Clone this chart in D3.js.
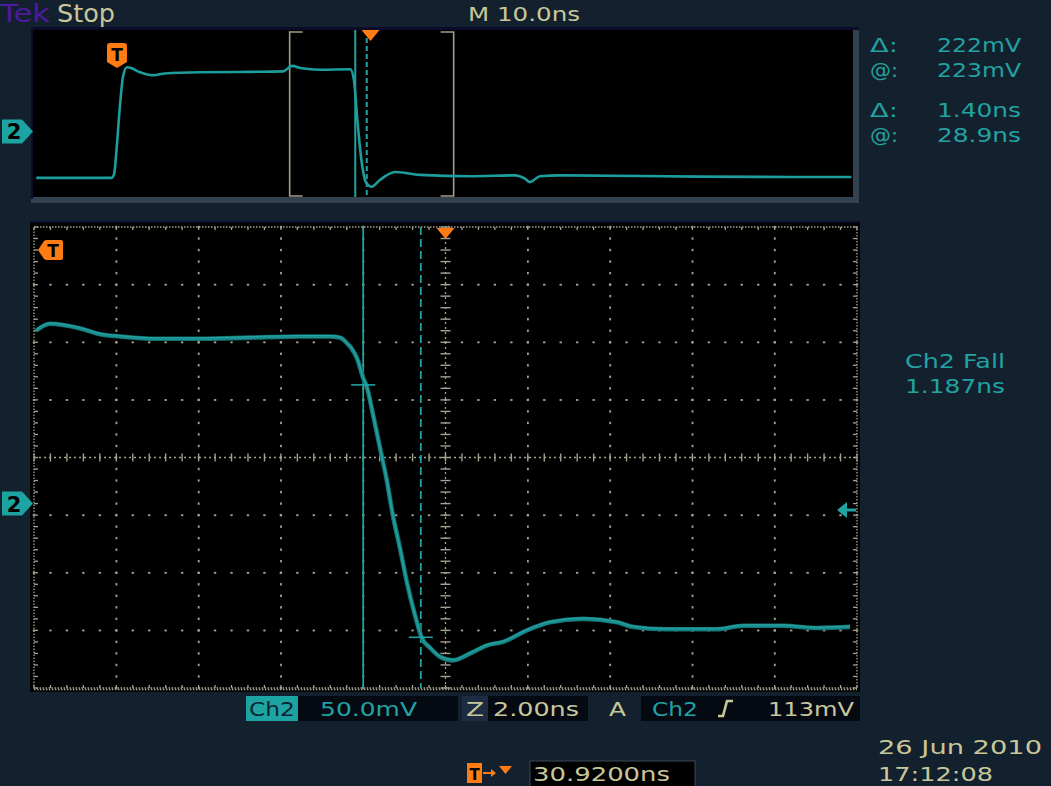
<!DOCTYPE html>
<html><head><meta charset="utf-8">
<script src="https://cdn.jsdelivr.net/npm/d3@7"></script>
<style>html,body{margin:0;padding:0;background:#13202e;overflow:hidden}svg{display:block}</style>
</head><body>
<svg id="c" width="1051" height="786"></svg>
<script>
// ---------------- data ----------------
// Overview record (10 ns/div, 100 ns across), time in ns, amplitude in mV
const overviewTimeNs = [0.4, 9.6, 9.9, 10.24, 10.6, 10.98, 11.46, 11.95, 13.05, 14.63, 16.1, 20.4, 26.5, 30.5, 31.6, 32.6, 35.0, 38.7, 39.15, 39.5, 40.0, 40.6, 41.3, 42.3, 44.15, 47.2, 53.3, 58.8, 60.0, 60.6, 61.8, 64.3, 81.3, 99.8];
const overviewMv     = [-110, -110, -100, -30, 60, 130, 152, 150, 140, 133, 137, 140, 141, 142, 155, 150, 146, 147, 120, 40, -60, -120, -131, -115, -96, -103, -106, -104, -112, -120, -106, -104, -107, -108];
// Zoomed window (2.00 ns/div, 20 ns across), time in ns from window start, amplitude in mV
const zoomTimeNs = [0.05, 0.39, 1.12, 1.60, 2.09, 3.0, 4.03, 5.25, 6.46, 7.2, 7.44, 7.61, 7.73, 7.85, 8.00, 8.09, 8.24, 8.41, 8.58, 8.72, 8.89, 9.06, 9.26, 9.43, 9.62, 9.87, 10.18, 10.60, 11.01, 11.40, 11.98, 12.54, 13.34, 14.17, 14.56, 15.38, 16.60, 17.23, 18.20, 19.03, 19.83];
const zoomMv     = [150, 156, 152, 147, 145, 143, 143, 144, 145, 145, 144, 139, 134, 126, 109, 101, 77, 48, 19, -10, -38, -68, -97, -117, -125, -133, -136, -130, -123, -120, -110, -103, -100, -103, -107, -109, -109, -106, -106, -108, -107];
const zoomWindowStartNs = 31.3;     // position of zoom window inside overview
const cursorTimesNs = [8.0, 9.4];   // vertical cursors (main window)
const cursorLevelsMv = [103, -116]; // horizontal cursor crosshairs
const triggerTimeNs = 10.24;        // overview trigger point
const triggerDelayNs = 30.92;
const readoutLabels = ["Δ:", "@:", "Δ:", "@:"];
const readoutValues = ["222mV", "223mV", "1.40ns", "28.9ns"];
const measureLines = ["Ch2 Fall", "1.187ns"];
const dateLines = ["26 Jun 2010", "17:12:08"];

// ---------------- style ----------------
const BG = "#13202e", TEAL = "#22a2a2", BEIGE = "#c8c79a", ORANGE = "#ff7b14", GRID = "#a3a390";
const FONT = "DejaVu Sans, Verdana, sans-serif";
const svg = d3.select("#c");
svg.append("rect").attr("width", 1051).attr("height", 786).attr("fill", BG);

function txt(s, x, y, size, fill, len, extra) {
  const t = svg.append("text").attr("x", x).attr("y", y).attr("font-family", FONT)
    .attr("font-size", size).attr("fill", fill).text(s);
  if (len) t.attr("textLength", len).attr("lengthAdjust", "spacingAndGlyphs");
  if (extra) extra(t);
  return t;
}

// ---------------- header ----------------
txt("Tek", 0, 22, 25, "#4b1a9e", 50);
txt("Stop", 57, 22, 25, BEIGE, 58);
txt("M 10.0ns", 468, 21, 20, BEIGE, 112);

// ---------------- overview panel ----------------
svg.append("rect").attr("x", 31).attr("y", 27).attr("width", 828).attr("height", 176).attr("fill", "#34424f");
svg.append("rect").attr("x", 31).attr("y", 27).attr("width", 828).attr("height", 3).attr("fill", "#0b0c2a");
svg.append("rect").attr("x", 31).attr("y", 27).attr("width", 2).attr("height", 172).attr("fill", "#0b0c2a");
svg.append("rect").attr("x", 33).attr("y", 30).attr("width", 820).attr("height", 167).attr("fill", "#000");

const ox = d3.scaleLinear().domain([0, 100]).range([33, 853]);
const oy = d3.scaleLinear().domain([-160, 240]).range([199, 30]);

// zoom-window brackets
const bx0 = ox(zoomWindowStartNs), bx1 = ox(zoomWindowStartNs + 20);
const br = svg.append("g").attr("stroke", "#a19d8a").attr("stroke-width", 1.6).attr("fill", "none");
br.append("path").attr("d", `M${bx0 + 13},32 H${bx0} V196 H${bx0 + 13}`);
br.append("path").attr("d", `M${bx1 - 13},32 H${bx1} V196 H${bx1 - 13}`);

// overview cursors
svg.append("line").attr("x1", ox(zoomWindowStartNs + cursorTimesNs[0])).attr("x2", ox(zoomWindowStartNs + cursorTimesNs[0]))
  .attr("y1", 30).attr("y2", 197).attr("stroke", TEAL).attr("stroke-width", 2);
svg.append("line").attr("x1", ox(zoomWindowStartNs + cursorTimesNs[1])).attr("x2", ox(zoomWindowStartNs + cursorTimesNs[1]))
  .attr("y1", 30).attr("y2", 197).attr("stroke", TEAL).attr("stroke-width", 2).attr("stroke-dasharray", "5,3");

const oline = d3.line().x((d, i) => ox(overviewTimeNs[i])).y((d, i) => oy(overviewMv[i])).curve(d3.curveMonotoneX);
svg.append("path").datum(overviewMv).attr("d", oline).attr("fill", "none")
  .attr("stroke", "#1e9d9d").attr("stroke-width", 2.6);

// trigger delay marker (orange triangle)
const tdx = ox(triggerTimeNs + triggerDelayNs);
svg.append("path").attr("d", `M${tdx - 9},30 L${tdx + 9},30 L${tdx},41 Z`).attr("fill", ORANGE);
// trigger T badge
const tx = ox(triggerTimeNs);
svg.append("path").attr("d", `M${tx - 10},46 Q${tx - 10},43 ${tx - 7},43 L${tx + 7},43 Q${tx + 10},43 ${tx + 10},46 L${tx + 10},62 L${tx},68 L${tx - 10},62 Z`).attr("fill", ORANGE);
txt("T", tx, 61, 17, "#000", null, t => t.attr("text-anchor", "middle").attr("font-weight", "bold"));

// channel marker "2"
function chMarker(y) {
  svg.append("path").attr("d", `M2,${y - 12} L22,${y - 12} L33,${y} L22,${y + 12} L2,${y + 12} Z`).attr("fill", "#1ea3a3");
  txt("2", 14, y + 8, 21, "#000", null, t => t.attr("text-anchor", "middle").attr("font-weight", "bold"));
}
chMarker(oy(0));

// ---------------- readouts ----------------
const ry = [52, 77, 117, 142];
readoutLabels.forEach((s, i) => txt(s, 870, ry[i], 19, TEAL, 28));
readoutValues.forEach((s, i) => txt(s, 937, ry[i], 19, TEAL, 84));
txt(measureLines[0], 905, 368, 19, TEAL, 100);
txt(measureLines[1], 905, 393, 19, TEAL, 100);

// ---------------- main panel ----------------
svg.append("rect").attr("x", 30).attr("y", 222).attr("width", 830).attr("height", 470).attr("fill", "#000");
svg.append("rect").attr("x", 30).attr("y", 221).attr("width", 830).attr("height", 2).attr("fill", "#0b0c2a");

const x = d3.scaleLinear().domain([0, 20]).range([34, 857]);
const y = d3.scaleLinear().domain([-160, 240]).range([688, 227]);
const g = svg.append("g");
const minorT = d3.range(0, 20.0001, 0.4);
const minorV = d3.range(-160, 240.0001, 10);
const majorT = [2, 4, 6, 8, 12, 14, 16, 18];
const majorV = [190, 140, 90, -10, -60, -110];

// dotted major grid
majorT.forEach(t => minorV.forEach(v => g.append("rect").attr("x", x(t) - 0.8).attr("y", y(v) - 1.2).attr("width", 1.8).attr("height", 2.4).attr("fill", GRID)));
majorV.forEach(v => minorT.forEach(t => g.append("rect").attr("x", x(t) - 1.2).attr("y", y(v) - 0.8).attr("width", 2.4).attr("height", 1.8).attr("fill", GRID)));
// center lines
g.append("line").attr("x1", x(10)).attr("x2", x(10)).attr("y1", y(240)).attr("y2", y(-160)).attr("stroke", GRID).attr("stroke-width", 1.3).attr("stroke-dasharray", "2,3");
g.append("line").attr("x1", x(0)).attr("x2", x(20)).attr("y1", y(40)).attr("y2", y(40)).attr("stroke", GRID).attr("stroke-width", 1.3).attr("stroke-dasharray", "2,3");
minorV.forEach(v => g.append("line").attr("x1", x(10) - 5).attr("x2", x(10) + 5).attr("y1", y(v)).attr("y2", y(v)).attr("stroke", GRID).attr("stroke-width", 1.4));
minorT.forEach(t => g.append("line").attr("x1", x(t)).attr("x2", x(t)).attr("y1", y(40) - 4).attr("y2", y(40) + 4).attr("stroke", GRID).attr("stroke-width", 1.4));
// border
g.append("rect").attr("x", x(0)).attr("y", y(240)).attr("width", x(20) - x(0)).attr("height", y(-160) - y(240))
  .attr("fill", "none").attr("stroke", GRID).attr("stroke-width", 1.3).attr("stroke-dasharray", "1.5,1.5");
g.append("line").attr("x1", x(0)).attr("x2", x(20)).attr("y1", y(-160) + 1.5).attr("y2", y(-160) + 1.5).attr("stroke", GRID).attr("stroke-width", 1.3).attr("stroke-dasharray", "1.5,1.5");
minorV.forEach(v => {
  g.append("line").attr("x1", x(0)).attr("x2", x(0) + 4).attr("y1", y(v)).attr("y2", y(v)).attr("stroke", GRID).attr("stroke-width", 1.3);
  g.append("line").attr("x1", x(20) - 4).attr("x2", x(20)).attr("y1", y(v)).attr("y2", y(v)).attr("stroke", GRID).attr("stroke-width", 1.3);
});
minorT.forEach(t => {
  g.append("line").attr("x1", x(t)).attr("x2", x(t)).attr("y1", y(240)).attr("y2", y(240) + 3).attr("stroke", GRID).attr("stroke-width", 1.3);
  g.append("line").attr("x1", x(t)).attr("x2", x(t)).attr("y1", y(-160) - 3).attr("y2", y(-160)).attr("stroke", GRID).attr("stroke-width", 1.3);
});

// cursors
svg.append("line").attr("x1", x(cursorTimesNs[0])).attr("x2", x(cursorTimesNs[0])).attr("y1", y(240)).attr("y2", y(-160))
  .attr("stroke", TEAL).attr("stroke-width", 1.8);
svg.append("line").attr("x1", x(cursorTimesNs[1])).attr("x2", x(cursorTimesNs[1])).attr("y1", y(240)).attr("y2", y(-160))
  .attr("stroke", TEAL).attr("stroke-width", 1.8).attr("stroke-dasharray", "8,4");

// waveform
const mline = d3.line().x((d, i) => x(zoomTimeNs[i])).y((d, i) => y(zoomMv[i])).curve(d3.curveMonotoneX);
svg.append("path").datum(zoomMv).attr("d", mline).attr("fill", "none").attr("stroke", "#126e6e").attr("stroke-width", 4.6);
svg.append("path").datum(zoomMv).attr("d", mline).attr("fill", "none").attr("stroke", "#1b8f8f").attr("stroke-width", 2.8);
svg.append("path").datum(zoomMv).attr("d", mline).attr("fill", "none").attr("stroke", "#26a4a4").attr("stroke-width", 1).attr("transform", "translate(0,-1)");

// crosshairs
cursorTimesNs.forEach((t, i) => svg.append("line").attr("x1", x(t) - 12).attr("x2", x(t) + 12)
  .attr("y1", y(cursorLevelsMv[i])).attr("y2", y(cursorLevelsMv[i])).attr("stroke", TEAL).attr("stroke-width", 1.6));

// trigger position marker at top of main
const mt = x(10);
svg.append("path").attr("d", `M${mt - 9},228 L${mt + 9},228 L${mt},239 Z`).attr("fill", ORANGE);
// main T marker (pointing left)
svg.append("path").attr("d", "M38,250 L44,241 Q45,240 47,240 L61,240 Q63,240 63,242 L63,258 Q63,260 61,260 L47,260 Q45,260 44,259 Z").attr("fill", ORANGE);
txt("T", 53, 257, 17, "#000", null, t => t.attr("text-anchor", "middle").attr("font-weight", "bold"));
// ground marker and right arrow
chMarker(y(0));
svg.append("path").attr("d", "M837,510 L847,502 L847,508.5 L856,508.5 L856,511.5 L847,511.5 L847,518 Z").attr("fill", TEAL);

// ---------------- bottom bar ----------------
svg.append("rect").attr("x", 246).attr("y", 696).attr("width", 52).attr("height", 25).attr("fill", "#1ea3a3");
svg.append("rect").attr("x", 298).attr("y", 696).attr("width", 160).attr("height", 25).attr("fill", "#050a12");
svg.append("rect").attr("x", 462).attr("y", 696).attr("width", 26).attr("height", 25).attr("fill", "#1d2c40");
svg.append("rect").attr("x", 488).attr("y", 696).attr("width", 100).attr("height", 25).attr("fill", "#050a12");
svg.append("rect").attr("x", 641).attr("y", 696).attr("width", 219).attr("height", 25).attr("fill", "#050a12");
txt("Ch2", 249, 716, 20, "#082530", 46);
txt("50.0mV", 320, 716, 20, TEAL, 97);
txt("Z", 466, 716, 20, BEIGE, 18);
txt("2.00ns", 493, 716, 20, BEIGE, 86);
txt("A", 609, 716, 20, BEIGE, 17);
txt("Ch2", 652, 716, 20, TEAL, 46);
svg.append("path").attr("d", "M718,716 L723,716 L727,701 L733,701").attr("fill", "none").attr("stroke", BEIGE).attr("stroke-width", 2.6);
txt("113mV", 768, 716, 20, BEIGE, 86);

// trigger delay readout
svg.append("rect").attr("x", 467).attr("y", 763).attr("width", 15).attr("height", 20).attr("fill", ORANGE);
txt("T", 474.5, 780, 15, "#000", null, t => t.attr("text-anchor", "middle").attr("font-weight", "bold"));
svg.append("path").attr("d", "M483,773 L494,773").attr("stroke", ORANGE).attr("stroke-width", 2);
svg.append("path").attr("d", "M491,769 L496,773 L491,777 Z").attr("fill", ORANGE);
svg.append("path").attr("d", "M499,766 L512,766 L505.5,774 Z").attr("fill", ORANGE);
svg.append("rect").attr("x", 530).attr("y", 761).attr("width", 165).attr("height", 30).attr("fill", "#000").attr("stroke", "#3a4858").attr("stroke-width", 1);
txt(d3.format(".4f")(triggerDelayNs) + "ns", 533, 781, 19, BEIGE, 137);

// date / time
txt(dateLines[0], 878, 754, 20, BEIGE, 164);
txt(dateLines[1], 878, 781, 19, BEIGE, 115);
</script>
</body></html>
